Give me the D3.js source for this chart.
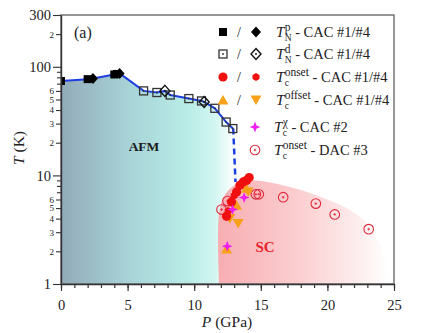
<!DOCTYPE html>
<html>
<head>
<meta charset="utf-8">
<script src="https://cdn.jsdelivr.net/npm/d3@7"></script>
<style>
  body { margin: 0; background: #fff; }
  text { font-family: "Liberation Serif", "DejaVu Serif", serif; }
</style>
</head>
<body>
<div id="chart"></div>
<script>
// data: [P (GPa), T (K)]
const tnPeakCAC1 = [[0, 74], [2.0, 77], [4.0, 85], [4.2, 86]];
const tnPeakCAC4 = [[2.4, 78], [4.4, 87]];
const tnDipCAC1 = [[6.2, 60], [7.2, 58], [8.2, 55], [9.6, 51], [10.55, 48.5], [11.55, 41.5], [12.4, 31], [12.9, 27]];
const tnDipCAC4 = [[7.8, 60], [10.75, 47.5]];
const tnDashed = [[12.93, 27], [13.1, 8.7]];
const tcOnsetCAC1 = [[12.43, 4.2], [12.8, 5.7], [13.18, 7.05], [13.43, 8.1], [13.68, 8.7], [13.93, 9.0], [14.13, 9.55]];
const tcOnsetCAC4 = [[12.55, 4.7], [13.0, 6.5], [13.55, 8.4]];
const tcOffsetCAC1 = [[12.43, 2.1], [13.18, 5.3], [13.93, 7.6]];
const tcOffsetCAC4 = [[12.68, 4.0], [13.3, 3.6], [14.05, 7.05]];
const tcChiCAC2 = [[12.48, 2.23], [12.88, 4.85], [13.75, 6.25]];
const tcOnsetDAC3 = [[12.05, 4.85], [12.5, 5.8], [14.63, 6.7], [14.85, 6.7], [16.68, 6.3], [19.13, 5.5], [20.55, 4.37], [23.1, 3.2]];
const scDome = [[11.87, 1], [11.87, 4.5], [12.3, 6.6], [13.2, 8.4], [14.5, 9.0], [17.4, 7.7], [20, 6.0], [21.7, 4.8], [23.0, 3.6], [24.0, 2.2], [24.5, 1.4], [24.6, 1]];
const xTicksMajor = [0, 5, 10, 15, 20, 25];
const xTicksMinor = d3.range(0, 26);
const yTicks = [1, 2, 3, 4, 5, 6, 7, 8, 9, 10, 20, 30, 40, 50, 60, 70, 80, 90, 100, 200, 300];
const yMajor = [1, 10, 100, 300];
const yLabelled = [2, 3, 4, 5, 6, 20, 30, 40, 50, 60, 200];

const width = 429, height = 333;
const svg = d3.select('#chart').append('svg')
  .attr('width', width).attr('height', height)
  .attr('font-family', '"Liberation Serif", serif');

const x = d3.scaleLinear().domain([0, 25]).range([61, 394]);
const y = d3.scaleLog().domain([1, 300]).range([284, 15]);

const defs = svg.append('defs');
defs.append('clipPath').attr('id', 'clip').append('rect')
  .attr('x', x(0)).attr('y', y(300)).attr('width', x(25) - x(0)).attr('height', y(1) - y(300));

const afmGrad = defs.append('linearGradient').attr('id', 'afmGrad')
  .attr('gradientUnits', 'userSpaceOnUse')
  .attr('x1', x(0)).attr('x2', x(13.1)).attr('y1', 0).attr('y2', 0);
[[0, '#92abb9'], [0.4, '#a8d4d8'], [0.72, '#b8ebe6'], [0.88, '#d2f6f1'], [1, '#ffffff']].forEach(s =>
  afmGrad.append('stop').attr('offset', s[0]).attr('stop-color', s[1]));

const scGrad = defs.append('linearGradient').attr('id', 'scGrad')
  .attr('gradientUnits', 'userSpaceOnUse')
  .attr('x1', x(11.87)).attr('x2', x(24.6)).attr('y1', 0).attr('y2', 0);
[[0, '#f7aeb3'], [0.45, '#fbcdcf'], [0.8, '#fdebeb'], [1, '#ffffff']].forEach(s =>
  scGrad.append('stop').attr('offset', s[0]).attr('stop-color', s[1]));

const plot = svg.append('g').attr('clip-path', 'url(#clip)');

// TN line = all TN points sorted by pressure
const tnAll = [...tnPeakCAC1, ...tnPeakCAC4, ...tnDipCAC1, ...tnDipCAC4].sort((a, b) => a[0] - b[0]);

// AFM shaded area
const afmPts = [[0, 1], ...tnAll, tnDashed[1], [tnDashed[1][0], 1]];
plot.append('path')
  .attr('d', d3.line().x(d => x(d[0])).y(d => y(d[1]))(afmPts) + 'Z')
  .attr('fill', 'url(#afmGrad)');

// SC dome
plot.append('path')
  .attr('d', d3.line().x(d => x(d[0])).y(d => y(d[1])).curve(d3.curveCatmullRom)(scDome) + 'Z')
  .attr('fill', 'url(#scGrad)');

plot.append('path')
  .attr('d', d3.line().x(d => x(d[0])).y(d => y(d[1]))(tnAll))
  .attr('fill', 'none').attr('stroke', '#1d3fe0').attr('stroke-width', 2);

plot.append('path')
  .attr('d', d3.line().x(d => x(d[0])).y(d => y(d[1]))(tnDashed))
  .attr('fill', 'none').attr('stroke', '#1d3fe0').attr('stroke-width', 2.5)
  .attr('stroke-dasharray', '6,4');

// four-point sparkle
const sparkle = {
  draw(ctx, size) {
    const r = Math.sqrt(size) * 0.85, q = r * 0.28;
    ctx.moveTo(0, -r);
    ctx.lineTo(q, -q); ctx.lineTo(r, 0); ctx.lineTo(q, q);
    ctx.lineTo(0, r); ctx.lineTo(-q, q); ctx.lineTo(-r, 0); ctx.lineTo(-q, -q);
    ctx.closePath();
  }
};
const hexagon = {
  draw(ctx, size) {
    const r = Math.sqrt(size) * 0.62;
    for (let i = 0; i < 6; i++) {
      const a = Math.PI / 6 + i * Math.PI / 3;
      if (i === 0) ctx.moveTo(r * Math.cos(a), r * Math.sin(a));
      else ctx.lineTo(r * Math.cos(a), r * Math.sin(a));
    }
    ctx.closePath();
  }
};

function marker(g, type, cx, cy) {
  const m = g.append('g').attr('transform', `translate(${cx},${cy})`);
  if (type === 'sq') {
    m.append('rect').attr('x', -4).attr('y', -4).attr('width', 8).attr('height', 8).attr('fill', '#000');
  } else if (type === 'sqo') {
    m.append('rect').attr('x', -4).attr('y', -4).attr('width', 8).attr('height', 8)
      .attr('fill', 'none').attr('stroke', '#333').attr('stroke-width', 1.3);
    m.append('circle').attr('r', 0.9).attr('fill', '#333');
  } else if (type === 'dia') {
    m.append('path').attr('d', 'M0,-5.5L5,0L0,5.5L-5,0Z').attr('fill', '#000');
  } else if (type === 'diao') {
    m.append('path').attr('d', 'M0,-5.5L5,0L0,5.5L-5,0Z')
      .attr('fill', 'none').attr('stroke', '#111').attr('stroke-width', 1.4);
    m.append('circle').attr('r', 0.9).attr('fill', '#111');
  } else if (type === 'circ') {
    m.append('circle').attr('r', 4.6).attr('fill', '#f01010');
  } else if (type === 'hex') {
    m.append('path').attr('d', d3.symbol(hexagon, 42)()).attr('fill', '#f01010');
  } else if (type === 'tri') {
    m.append('path').attr('d', 'M0,-5L5.5,4.5L-5.5,4.5Z').attr('fill', '#f7a11a');
  } else if (type === 'tridown') {
    m.append('path').attr('d', 'M0,5L5.5,-4.5L-5.5,-4.5Z').attr('fill', '#f7a11a');
  } else if (type === 'star') {
    m.append('path').attr('d', d3.symbol(sparkle, 40)()).attr('fill', '#f01ef0');
  } else if (type === 'dac') {
    m.append('circle').attr('r', 4.8).attr('fill', 'none').attr('stroke', '#e0283a').attr('stroke-width', 1.1);
    m.append('path').attr('d', 'M-1.3,0H1.3M0,-1.3V1.3').attr('stroke', '#e0283a').attr('stroke-width', 0.9);
  }
}

const series = [
  [tnPeakCAC1, 'sq'], [tnPeakCAC4, 'dia'],
  [tnDipCAC1, 'sqo'], [tnDipCAC4, 'diao'],
  [tcOnsetDAC3, 'dac'],
  [tcOffsetCAC4, 'tridown'], [tcOffsetCAC1, 'tri'],
  [tcOnsetCAC1, 'circ'], [tcOnsetCAC4, 'hex'],
  [tcChiCAC2, 'star']
];
series.forEach(([data, type]) => data.forEach(d => marker(plot, type, x(d[0]), y(d[1]))));

// labels in plot
svg.append('text').attr('x', 144).attr('y', 151).attr('text-anchor', 'middle')
  .attr('font-weight', 'bold').attr('font-size', 13.5).attr('fill', '#1a1a1a').text('AFM');
svg.append('text').attr('x', 265).attr('y', 252).attr('text-anchor', 'middle')
  .attr('font-weight', 'bold').attr('font-size', 15).attr('fill', '#e8232c').text('SC');
svg.append('text').attr('x', 74).attr('y', 38).attr('font-size', 16).attr('fill', '#222').text('(a)');

// frame
svg.append('rect')
  .attr('x', x(0)).attr('y', y(300)).attr('width', x(25) - x(0)).attr('height', y(1) - y(300))
  .attr('fill', 'none').attr('stroke', '#6a6a6a').attr('stroke-width', 1.4);

// axes
const xMinorAxis = svg.append('g').attr('transform', `translate(0,${y(1)})`)
  .call(d3.axisBottom(x).tickValues(xTicksMinor).tickSize(4).tickSizeOuter(0).tickFormat(''));
xMinorAxis.select('.domain').remove();
const xAxis = svg.append('g').attr('transform', `translate(0,${y(1)})`)
  .call(d3.axisBottom(x).tickValues(xTicksMajor).tickSize(7).tickSizeOuter(0).tickFormat(d3.format('d')));
xAxis.select('.domain').attr('stroke', '#333').attr('stroke-width', 1.4);
svg.selectAll('.tick line').attr('stroke', '#333').attr('stroke-width', 1.2);
xAxis.attr('font-family', null);
xAxis.selectAll('text').attr('font-size', 14.5).attr('fill', '#222').attr('dy', '1.1em');

const yAxis = svg.append('g').attr('transform', `translate(${x(0)},0)`)
  .call(d3.axisLeft(y).tickValues(yTicks).tickSizeOuter(0)
    .tickFormat(d => yMajor.includes(d) ? String(d) : yLabelled.includes(d) ? String(d).charAt(0) : ''));
yAxis.attr('font-family', null);
yAxis.select('.domain').attr('stroke', '#333').attr('stroke-width', 1.4);
yAxis.selectAll('.tick line')
  .attr('x2', d => yMajor.includes(d) ? -8 : yLabelled.includes(d) ? -5 : -4)
  .attr('stroke', '#333').attr('stroke-width', 1.1);
yAxis.selectAll('.tick text')
  .attr('x', d => yMajor.includes(d) ? -10 : -7)
  .attr('font-size', d => yMajor.includes(d) ? 14.5 : 9)
  .attr('fill', '#222');

// axis titles
const yt = svg.append('text').attr('transform', 'translate(24,148) rotate(-90)')
  .attr('text-anchor', 'middle').attr('font-size', 15.5).attr('fill', '#222');
yt.append('tspan').attr('font-style', 'italic').text('T');
yt.append('tspan').text(' (K)');
const xt = svg.append('text').attr('x', 227).attr('y', 327)
  .attr('text-anchor', 'middle').attr('font-size', 15.5).attr('fill', '#222');
xt.append('tspan').attr('font-style', 'italic').text('P');
xt.append('tspan').text(' (GPa)');

// legend
const legendRows = [
  { y: 32, m: ['sq', 'dia'], sub: 'N', sup: 'p', rest: ' - CAC #1/#4' },
  { y: 54, m: ['sqo', 'diao'], sub: 'N', sup: 'd', rest: ' - CAC #1/#4' },
  { y: 77, m: ['circ', 'hex'], sub: 'c', sup: 'onset', rest: ' - CAC #1/#4' },
  { y: 100, m: ['tri', 'tridown'], sub: 'c', sup: 'offset', rest: ' - CAC #1/#4' },
  { y: 127, m: ['star'], sub: 'c', sup: 'χ', rest: ' - CAC #2' },
  { y: 150, m: ['dac'], sub: 'c', sup: 'onset', rest: ' - DAC #3' }
];
const legend = svg.append('g');
legendRows.forEach(r => {
  if (r.m.length === 2) {
    marker(legend, r.m[0], 223, r.y);
    legend.append('text').attr('x', 239).attr('y', r.y + 5).attr('text-anchor', 'middle')
      .attr('font-size', 14).attr('fill', '#222').text('/');
    marker(legend, r.m[1], 256, r.y);
  } else {
    marker(legend, r.m[0], 255, r.y);
  }
  const tx = r.m.length === 2 ? 276 : 274;
  const t = legend.append('text').attr('x', tx).attr('y', r.y + 5)
    .attr('font-size', 15).attr('font-style', 'italic').attr('fill', '#222').text('T');
  const tw = t.node().getComputedTextLength();
  const sub = legend.append('text').attr('x', tx + tw + 0.3).attr('y', r.y + 8.5)
    .attr('font-size', 9.5).attr('fill', '#222').text(r.sub);
  const sup = legend.append('text').attr('x', tx + tw + 0.3).attr('y', r.y - 1.5)
    .attr('font-size', 11.5).attr('fill', '#222').text(r.sup);
  const w = Math.max(sub.node().getComputedTextLength(), sup.node().getComputedTextLength());
  legend.append('text').attr('x', tx + tw + 0.3 + w).attr('y', r.y + 5)
    .attr('font-size', 14.5).attr('fill', '#222').style('white-space', 'pre').text(r.rest);
});
</script>
</body>
</html>
